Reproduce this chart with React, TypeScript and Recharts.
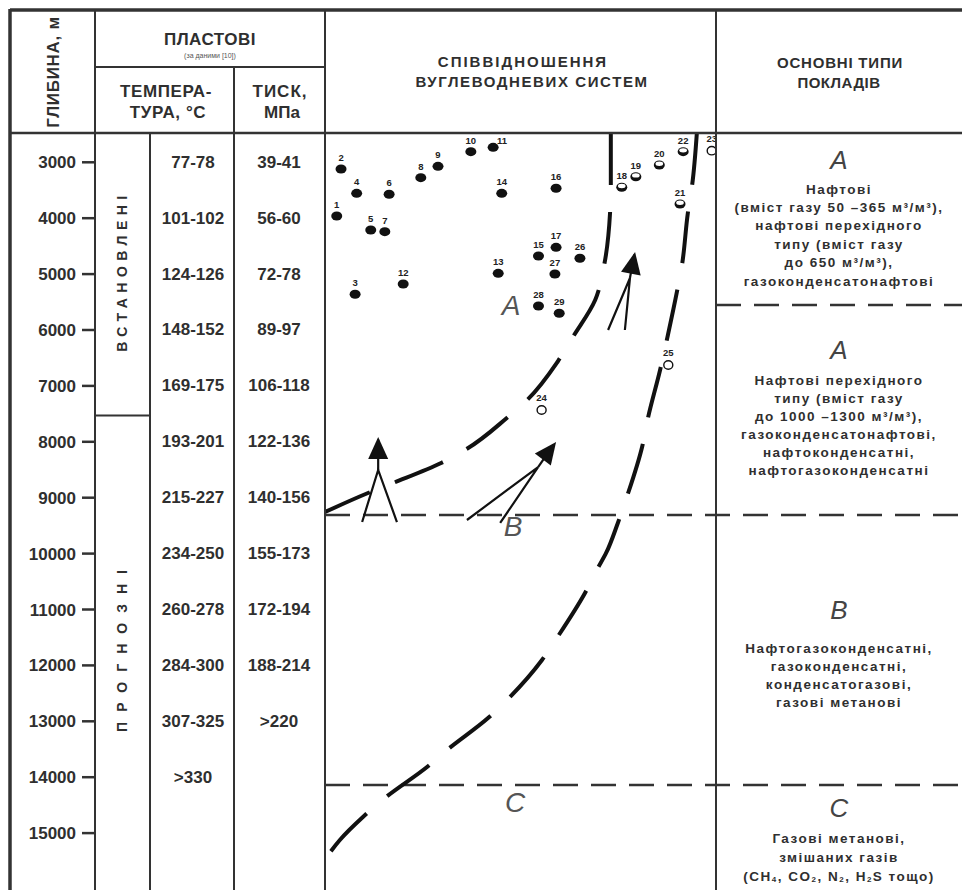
import React from "react";
import { ComposedChart, XAxis, YAxis, Line, Scatter, ReferenceLine } from "recharts";

const FONT = '"Liberation Sans", Arial, sans-serif';
const INK = "#2f2f2f";

// depth scale, m
const depthTicks = [3000, 4000, 5000, 6000, 7000, 8000, 9000, 10000, 11000, 12000, 13000, 14000, 15000];
const temperatures = ["77-78", "101-102", "124-126", "148-152", "169-175", "193-201", "215-227", "234-250", "260-278", "284-300", "307-325", ">330"];
const pressures = ["39-41", "56-60", "72-78", "89-97", "106-118", "122-136", "140-156", "155-173", "172-194", "188-214", ">220"];

// fields: number, position on the scheme (0..100), depth
const oilFields = [
  { n: 1, x: 3.0, depth: 3960 },
  { n: 2, x: 4.1, depth: 3120 },
  { n: 3, x: 7.7, depth: 5360 },
  { n: 4, x: 8.1, depth: 3555 },
  { n: 5, x: 11.7, depth: 4211 },
  { n: 6, x: 16.4, depth: 3572 },
  { n: 7, x: 15.3, depth: 4241 },
  { n: 8, x: 24.5, depth: 3275 },
  { n: 9, x: 28.9, depth: 3072 },
  { n: 10, x: 37.3, depth: 2810 },
  { n: 11, x: 43.0, depth: 2732 },
  { n: 12, x: 20.0, depth: 5177 },
  { n: 13, x: 44.3, depth: 4986 },
  { n: 14, x: 45.2, depth: 3555 },
  { n: 15, x: 54.6, depth: 4676 },
  { n: 16, x: 59.1, depth: 3465 },
  { n: 17, x: 59.1, depth: 4521 },
  { n: 26, x: 65.2, depth: 4717 },
  { n: 27, x: 58.8, depth: 4998 },
  { n: 28, x: 54.6, depth: 5571 },
  { n: 29, x: 59.9, depth: 5701 },
];
const transitionFields = [
  { n: 18, x: 75.9, depth: 3447 },
  { n: 19, x: 79.5, depth: 3258 },
  { n: 20, x: 85.5, depth: 3048 },
  { n: 21, x: 90.8, depth: 3746 },
  { n: 22, x: 91.6, depth: 2810 },
];
const gasFields = [
  { n: 23, x: 98.9, depth: 2792 },
  { n: 24, x: 55.4, depth: 7431 },
  { n: 25, x: 87.8, depth: 6626 },
];

// boundaries between hydrocarbon systems, top to bottom
const boundaryAB = [
  { x: 73.1, depth: 2476 },
  { x: 73.1, depth: 3406 },
  { x: 72.9, depth: 3907 },
  { x: 71.4, depth: 4837 },
  { x: 69.1, depth: 5463 },
  { x: 63.4, depth: 6125 },
  { x: 59.6, depth: 6555 },
  { x: 51.7, depth: 7252 },
  { x: 46.5, depth: 7574 },
  { x: 35.8, depth: 8147 },
  { x: 29.7, depth: 8379 },
  { x: 17.4, depth: 8737 },
  { x: 11.0, depth: 8916 },
  { x: 0, depth: 9256 },
];
const boundaryBC = [
  { x: 95.1, depth: 2476 },
  { x: 93.9, depth: 3406 },
  { x: 92.8, depth: 3907 },
  { x: 91.3, depth: 4837 },
  { x: 90.0, depth: 5320 },
  { x: 87.7, depth: 6089 },
  { x: 85.7, depth: 6715 },
  { x: 82.6, depth: 7574 },
  { x: 81.1, depth: 8093 },
  { x: 77.2, depth: 8987 },
  { x: 74.9, depth: 9452 },
  { x: 71.9, depth: 9989 },
  { x: 69.8, depth: 10257 },
  { x: 66.5, depth: 10705 },
  { x: 59.3, depth: 11510 },
  { x: 55.5, depth: 11904 },
  { x: 46.8, depth: 12601 },
  { x: 41.7, depth: 12941 },
  { x: 31.2, depth: 13513 },
  { x: 26.1, depth: 13817 },
  { x: 15.3, depth: 14372 },
  { x: 9.7, depth: 14712 },
  { x: 3.8, depth: 15123 },
  { x: 0.8, depth: 15392 },
];

// migration arrows: two legs joining into one shaft
const arrowLegs = [
  [{ x: 9.5, depth: 9435 }, { x: 13.6, depth: 8504 }, { x: 18.4, depth: 9435 }],
  [{ x: 36.3, depth: 9399 }, { x: 54.5, depth: 8451 }, { x: 44.8, depth: 9452 }],
  [{ x: 72.4, depth: 6000 }, { x: 78.0, depth: 5070 }, { x: 76.7, depth: 6000 }],
];
const arrowShafts = [
  [{ x: 13.6, depth: 8504 }, { x: 13.6, depth: 7960 }],
  [{ x: 54.5, depth: 8451 }, { x: 58.5, depth: 8050 }],
  [{ x: 78.0, depth: 5070 }, { x: 79.1, depth: 4650 }],
];
const arrowTips = [
  { x: 13.6, depth: 7914, angle: -90 },
  { x: 59.1, depth: 8003, angle: -53 },
  { x: 79.3, depth: 4605, angle: -79 },
];

// zone limits, m
const limitOilTypes = 5553;
const limitAB = 9310;
const limitBC = 14140;
const establishedLimit = 7530;

// layout of the table (px)
const PANEL_LEFT = 325;
const PANEL_RIGHT = 716;
const PX_PER_UNIT = (PANEL_RIGHT - PANEL_LEFT) / 100;
const toUnit = (px: number) => (px - PANEL_LEFT) / PX_PER_UNIT;
const X_MIN = toUnit(95);
const X_MAX = toUnit(962);

const temperatureMarks = temperatures.map((label, i) => ({ x: toUnit(193), depth: depthTicks[i], label }));
const pressureMarks = pressures.map((label, i) => ({ x: toUnit(279), depth: depthTicks[i], label }));
const stageMarks = [
  { x: toUnit(122), depth: 4945, label: "ВСТАНОВЛЕНІ", spacing: 5.5 },
  { x: toUnit(122), depth: 11653, label: "ПРОГНОЗНІ", spacing: 10 },
];
const zoneMarks = [
  { x: toUnit(511), depth: 5553, label: "A" },
  { x: toUnit(513), depth: 9524, label: "B" },
  { x: toUnit(515), depth: 14461, label: "C" },
];

const cellText = (props: any) => (
  <text x={props.cx} y={props.cy} textAnchor="middle" dominantBaseline="central"
    fontFamily={FONT} fontSize={17} fontWeight={700} fill={INK}>
    {props.payload.label}
  </text>
);

const stageText = (props: any) => (
  <text x={props.cx} y={props.cy} transform={`rotate(-90 ${props.cx} ${props.cy})`}
    textAnchor="middle" dominantBaseline="central" fontFamily={FONT} fontSize={14}
    fontWeight={700} letterSpacing={props.payload.spacing} fill={INK}>
    {props.payload.label}
  </text>
);

const zoneText = (props: any) => (
  <text x={props.cx} y={props.cy} textAnchor="middle" dominantBaseline="central"
    fontFamily={FONT} fontSize={28} fontStyle="italic" fill="#555">
    {props.payload.label}
  </text>
);

const fieldShape = (kind: string) => (props: any) => {
  const { cx, cy, payload } = props;
  const n = payload.n;
  const lx = n === 11 ? cx + 9 : cx;
  const ly = n === 11 ? cy - 3 : kind === "gas" ? cy - 9 : cy - 8;
  return (
    <g>
      {kind === "oil" && <ellipse cx={cx} cy={cy} rx={5.5} ry={4.5} fill="#111" />}
      {kind === "transition" && (
        <>
          <ellipse cx={cx} cy={cy} rx={5.5} ry={4.5} fill="#111" />
          <ellipse cx={cx} cy={cy - 1.3} rx={3.8} ry={2.2} fill="#fff" />
        </>
      )}
      {kind === "gas" && <ellipse cx={cx} cy={cy} rx={4.5} ry={4.2} fill="#fff" stroke="#111" strokeWidth={1.4} />}
      <text x={lx} y={ly} textAnchor="middle" fontFamily={FONT} fontSize={9.5} fontWeight={600} fill="#222">
        {n}
      </text>
    </g>
  );
};

const arrowHead = (props: any) => {
  const { cx, cy, payload } = props;
  return (
    <polygon points="0,0 -22,-10 -22,10" fill="#111"
      transform={`translate(${cx} ${cy}) rotate(${payload.angle})`} />
  );
};

const typeLines = (lines: string[], y0: number, step: number) =>
  lines.map((s, i) => (
    <text key={i} x={839} y={y0 + i * step} textAnchor="middle" dominantBaseline="central"
      fontFamily={FONT} fontSize={13.5} fontWeight={700} letterSpacing={1.5} fill={INK}>
      {s}
    </text>
  ));

const typeLetter = (s: string, y: number) => (
  <text x={839} y={y} textAnchor="middle" dominantBaseline="central" fontFamily={FONT}
    fontSize={26} fontStyle="italic" fill="#444">
    {s}
  </text>
);

const App = () => {
  const dashed = { stroke: "#333", strokeWidth: 2.5, strokeDasharray: "25 13" };
  const curve = { stroke: "#111", strokeWidth: 4, strokeDasharray: "52 27", dot: false, activeDot: false, isAnimationActive: false };
  return (
    <div style={{ position: "relative", width: 962, height: 890, background: "#fff" }}>
      <style>{"body{margin:0}"}</style>
      <ComposedChart width={962} height={890} margin={{ top: 133, right: 0, bottom: 2, left: 10 }}>
        <XAxis type="number" dataKey="x" domain={[X_MIN, X_MAX]} allowDataOverflow hide />
        <YAxis
          type="number"
          dataKey="depth"
          domain={[2476, 15982]}
          allowDataOverflow
          reversed
          ticks={depthTicks}
          interval={0}
          width={85}
          axisLine={false}
          tickSize={13}
          tickMargin={6}
          tickLine={{ stroke: "#333", strokeWidth: 2.5 }}
          tick={{ fill: INK, fontSize: 17, fontWeight: 700, fontFamily: FONT }}
        />

        <ReferenceLine segment={[{ x: 100, y: limitOilTypes }, { x: X_MAX, y: limitOilTypes }]} {...dashed} />
        <ReferenceLine segment={[{ x: 0, y: limitAB }, { x: X_MAX, y: limitAB }]} {...dashed} />
        <ReferenceLine segment={[{ x: 0, y: limitBC }, { x: X_MAX, y: limitBC }]} {...dashed} />
        <ReferenceLine segment={[{ x: X_MIN, y: establishedLimit }, { x: toUnit(150), y: establishedLimit }]} stroke="#333" strokeWidth={2} />

        <Line data={boundaryAB} dataKey="depth" type="monotoneY" {...curve} />
        <Line data={boundaryBC} dataKey="depth" type="monotoneY" {...curve} />

        {arrowLegs.map((d, i) => (
          <Line key={"leg" + i} data={d} dataKey="depth" type="linear" stroke="#111" strokeWidth={2.2} dot={false} activeDot={false} isAnimationActive={false} />
        ))}
        {arrowShafts.map((d, i) => (
          <Line key={"shaft" + i} data={d} dataKey="depth" type="linear" stroke="#111" strokeWidth={2.2} dot={false} activeDot={false} isAnimationActive={false} />
        ))}
        <Scatter data={arrowTips} shape={arrowHead} isAnimationActive={false} />

        <Scatter data={oilFields} shape={fieldShape("oil")} isAnimationActive={false} />
        <Scatter data={transitionFields} shape={fieldShape("transition")} isAnimationActive={false} />
        <Scatter data={gasFields} shape={fieldShape("gas")} isAnimationActive={false} />

        <Scatter data={temperatureMarks} shape={cellText} isAnimationActive={false} />
        <Scatter data={pressureMarks} shape={cellText} isAnimationActive={false} />
        <Scatter data={stageMarks} shape={stageText} isAnimationActive={false} />
        <Scatter data={zoneMarks} shape={zoneText} isAnimationActive={false} />
      </ComposedChart>

      {/* table frame and headers */}
      <svg width={962} height={890} style={{ position: "absolute", left: 0, top: 0, pointerEvents: "none" }}>
        <g stroke="#333" strokeWidth={2}>
          <line x1={10} y1={10} x2={962} y2={10} strokeWidth={3.5} />
          <line x1={10} y1={9} x2={10} y2={890} strokeWidth={3.5} />
          <line x1={10} y1={133} x2={962} y2={133} strokeWidth={2.5} />
          <line x1={95} y1={10} x2={95} y2={890} />
          <line x1={95} y1={67} x2={325} y2={67} />
          <line x1={150} y1={133} x2={150} y2={890} />
          <line x1={234} y1={67} x2={234} y2={890} />
          <line x1={325} y1={10} x2={325} y2={890} />
          <line x1={716} y1={10} x2={716} y2={890} />
        </g>
        <g fontFamily={FONT} fontWeight={700} fill={INK} textAnchor="middle" dominantBaseline="central">
          <text x={53} y={72} fontSize={17} letterSpacing={0.7} transform="rotate(-90 53 72)">ГЛИБИНА, м</text>
          <text x={210} y={39} fontSize={17} letterSpacing={0.5}>ПЛАСТОВІ</text>
          <text x={210} y={55} fontSize={7} fontWeight={400} fill="#555">(за даними [10])</text>
          <text x={166} y={91} fontSize={17} letterSpacing={0.6}>ТЕМПЕРА-</text>
          <text x={168} y={112} fontSize={17} letterSpacing={0.6}>ТУРА, °С</text>
          <text x={280} y={91} fontSize={17} letterSpacing={1}>ТИСК,</text>
          <text x={282} y={112} fontSize={17}>МПа</text>
          <text x={523} y={61} fontSize={15} letterSpacing={2}>СПІВВІДНОШЕННЯ</text>
          <text x={532} y={81} fontSize={15} letterSpacing={1.6}>ВУГЛЕВОДНЕВИХ  СИСТЕМ</text>
          <text x={840} y={62} fontSize={15} letterSpacing={0.8}>ОСНОВНІ  ТИПИ</text>
          <text x={839} y={82} fontSize={15} letterSpacing={0.5}>ПОКЛАДІВ</text>
        </g>

        {typeLetter("A", 160)}
        {typeLines(["Нафтові", "(вміст газу 50 –365 м³/м³),", "нафтові перехідного", "типу (вміст газу", "до 650 м³/м³),", "газоконденсатонафтові"], 189, 18.4)}
        {typeLetter("A", 350)}
        {typeLines(["Нафтові перехідного", "типу (вміст газу", "до 1000 –1300 м³/м³),", "газоконденсатонафтові,", "нафтоконденсатні,", "нафтогазоконденсатні"], 380, 18)}
        {typeLetter("B", 610)}
        {typeLines(["Нафтогазоконденсатні,", "газоконденсатні,", "конденсатогазові,", "газові метанові"], 648, 18.3)}
        {typeLetter("C", 808)}
        {typeLines(["Газові метанові,", "змішаних газів"], 838, 19)}
        <text x={839} y={876} textAnchor="middle" dominantBaseline="central" fontFamily={FONT}
          fontSize={13.5} fontWeight={700} letterSpacing={1.5} fill={INK}>
          (CH<tspan fontSize={8} dy={3}>4</tspan><tspan dy={-3}>, CO</tspan>
          <tspan fontSize={8} dy={3}>2</tspan><tspan dy={-3}>, N</tspan>
          <tspan fontSize={8} dy={3}>2</tspan><tspan dy={-3}>, H</tspan>
          <tspan fontSize={8} dy={3}>2</tspan><tspan dy={-3}>S тощо)</tspan>
        </text>
      </svg>
    </div>
  );
};

export default App;
